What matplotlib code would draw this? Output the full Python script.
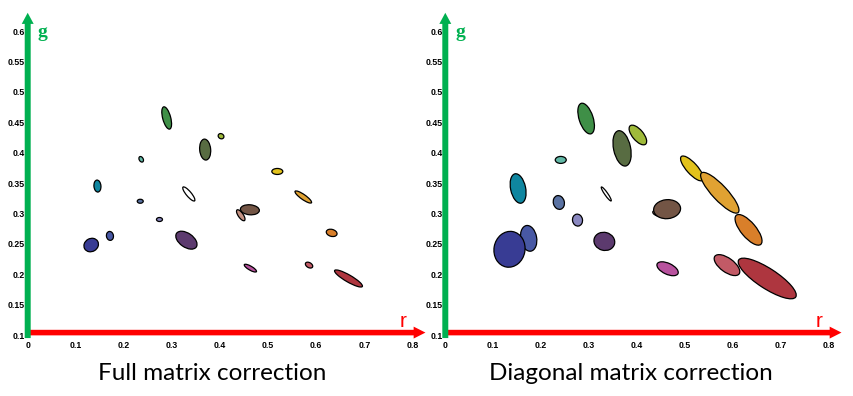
import numpy as np
import matplotlib
matplotlib.use('Agg')
import matplotlib.pyplot as plt
from matplotlib.collections import EllipseCollection

# ellipse colours (same patch order in both panels)
colors = ['#3f8f47', '#9fba3a', '#586c42', '#62b8a6', '#e2c21c', '#e0a232',
          '#0f86a0', '#ffffff', '#5a72a2', '#c49282', '#735545', '#8a88c0',
          '#d97f2a', '#4858a4', '#383c94', '#5c3a6e', '#b8529e', '#c25a66',
          '#ae363f']

# full matrix correction: centres (r, g), axes in pixels, angle in degrees
r_full = [0.289, 0.402, 0.369, 0.236, 0.519, 0.573, 0.145, 0.335, 0.234, 0.443,
          0.462, 0.274, 0.632, 0.171, 0.132, 0.330, 0.463, 0.585, 0.667]
g_full = [0.457, 0.427, 0.405, 0.389, 0.369, 0.327, 0.345, 0.332, 0.320, 0.297,
          0.306, 0.290, 0.268, 0.263, 0.248, 0.256, 0.210, 0.215, 0.193]
maj_full = [23, 6, 21, 6, 11, 20, 12, 18, 6, 13, 19, 6, 11, 9, 15, 24, 14, 8, 32]
min_full = [8, 5, 11, 4, 6, 5, 7, 5, 4, 5, 10, 4, 7, 7, 13, 14, 4, 5, 7]
ang_full = [-75, -30, -85, -60, 0, -35, -85, -50, 0, -55, -5, 0, -15, -80, 30,
            -35, -30, -30, -30]

# diagonal matrix correction
r_diag = [0.294, 0.402, 0.369, 0.241, 0.515, 0.573, 0.152, 0.336, 0.237, 0.443,
          0.463, 0.276, 0.633, 0.174, 0.134, 0.332, 0.464, 0.588, 0.672]
g_diag = [0.456, 0.429, 0.407, 0.388, 0.374, 0.334, 0.341, 0.332, 0.318, 0.300,
          0.307, 0.289, 0.273, 0.259, 0.241, 0.254, 0.209, 0.215, 0.193]
maj_diag = [32, 24, 36, 11, 32, 54, 30, 17, 14, 10, 27, 12, 38, 26, 36, 21, 23, 30, 68]
min_diag = [14, 11, 17, 7, 11, 15, 15, 3, 11, 5, 19, 10, 15, 16, 31, 18, 11, 14, 20]
ang_diag = [-72, -50, -78, 0, -48, -47, -78, -55, -75, -20, 5, -80, -50, -80, 80,
            -15, -25, -36, -33]

xticks = [0, 0.1, 0.2, 0.3, 0.4, 0.5, 0.6, 0.7, 0.8]
xlabels = ['0', '0.1', '0.2', '0.3', '0.4', '0.5', '0.6', '0.7', '0.8']
yticks = [0.1, 0.15, 0.2, 0.25, 0.3, 0.35, 0.4, 0.45, 0.5, 0.55, 0.6]
ylabels = ['0.1', '0.15', '0.2', '0.25', '0.3', '0.35', '0.4', '0.45', '0.5', '0.55', '0.6']

GREEN = '#00b050'
RED = '#ff0000'


def draw_panel(ax, r, g, maj, mnr, ang, title, title_x):
    ax.set_xlim(0, 0.84)
    ax.set_ylim(0.09, 0.64)
    for s in ax.spines.values():
        s.set_visible(False)
    ax.set_xticks(xticks, labels=xlabels)
    ax.set_yticks(yticks, labels=ylabels)
    ax.tick_params(length=0, labelsize=6.3)
    ax.tick_params(axis='y', pad=2)
    ax.tick_params(axis='x', pad=0)
    for lab in ax.get_xticklabels() + ax.get_yticklabels():
        lab.set_fontweight('bold')
        lab.set_family('Liberation Sans')

    ec = EllipseCollection(maj, mnr, ang, units='dots',
                           offsets=np.column_stack([r, g]),
                           offset_transform=ax.transData,
                           facecolors=colors, edgecolors='black', linewidths=0.9)
    ax.add_collection(ec)

    # axis arrows
    ax.annotate('', xy=(0.827, 0.104), xytext=(0.004, 0.104), annotation_clip=False,
                arrowprops=dict(arrowstyle='simple,head_length=8.5,head_width=8.6,tail_width=4.0',
                                mutation_scale=1, color=RED, lw=0, shrinkA=0, shrinkB=0))
    ax.annotate('', xy=(0, 0.630), xytext=(0, 0.095), annotation_clip=False,
                arrowprops=dict(arrowstyle='simple,head_length=8,head_width=8.6,tail_width=4.3',
                                mutation_scale=1, color=GREEN, lw=0, shrinkA=0, shrinkB=0))
    ax.text(0.021, 0.597, 'g', color=GREEN, fontsize=14, fontweight='bold',
            family='Liberation Serif', ha='left', va='center')
    ax.text(0.78, 0.123, 'r', color=RED, fontsize=15, family='Liberation Sans',
            ha='center', va='center')

    fig.text(title_x, 1 - 373 / 396, title, ha='center', va='center',
             fontsize=17.5, family='Lato')


fig = plt.figure(figsize=(8.54, 3.96), dpi=100)
ax1 = fig.add_axes([27.7 / 854, 54.9 / 396, 404 / 854, 334.4 / 396])
ax2 = fig.add_axes([445.3 / 854, 54.9 / 396, 402.4 / 854, 334.4 / 396])

draw_panel(ax1, r_full, g_full, maj_full, min_full, ang_full,
           'Full matrix correction', 212.5 / 854)
draw_panel(ax2, r_diag, g_diag, maj_diag, min_diag, ang_diag,
           'Diagonal matrix correction', 631 / 854)

fig.savefig('out.png', dpi=100)
